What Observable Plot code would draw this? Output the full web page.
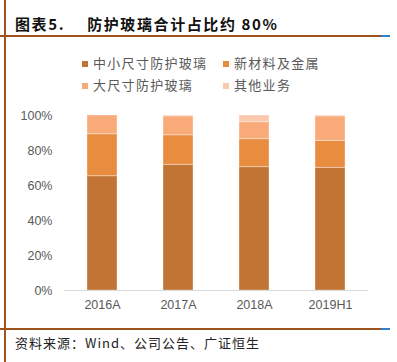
<!DOCTYPE html>
<html>
<head>
<meta charset="utf-8">
<script src="https://cdn.jsdelivr.net/npm/d3@7"></script>
<script src="https://cdn.jsdelivr.net/npm/@observablehq/plot@0.6"></script>
<style>
  html, body { margin: 0; padding: 0; background: #fff; }
  #page { position: relative; width: 397px; height: 362px; overflow: hidden; font-family: "Noto Sans CJK SC", sans-serif; }
  .abs { position: absolute; }
  #title { left: 15px; top: 13px; font-size: 15px; font-weight: bold; color: #111; white-space: pre; letter-spacing: 1.6px; }
  #source { left: 15px; top: 333px; font-size: 13px; color: #222; letter-spacing: 1px; white-space: pre; }
  .leg { font-size: 13px; color: #595959; letter-spacing: 1.3px; white-space: pre; line-height: 16px; }
  .sw { width: 6px; height: 6px; }
  #chart { left: 0; top: 100px; }
</style>
</head>
<body>
<div id="page">
  <div class="abs" style="left:4px;top:0;width:2px;height:362px;background:#A0521E"></div>
  <div class="abs" style="left:0;top:35px;width:381px;height:2px;background:#A0521E"></div>
  <div class="abs" style="left:381px;top:35px;width:9px;height:2px;background:#2F7FD0"></div>
  <div class="abs" style="left:0;top:328px;width:381px;height:2px;background:#A0521E"></div>
  <div class="abs" style="left:381px;top:328px;width:9px;height:2px;background:#2F7FD0"></div>
  <div class="abs" id="title">图表5.<span style="display:inline-block;width:22px"></span>防护玻璃合计占比约 80%</div>
  <div id="legend"></div>
  <div class="abs" id="chart"></div>
  <div class="abs" id="source">资料来源：Wind、公司公告、广证恒生</div>
</div>
<script>
const years = ["2016A", "2017A", "2018A", "2019H1"];
const seriesNames = ["中小尺寸防护玻璃", "新材料及金属", "大尺寸防护玻璃", "其他业务"];
const seriesColors = ["#C27434", "#E88C40", "#F8AA78", "#FBC9AE"];
const smallGlass = [65.3, 71.8, 70.5, 70.1];
const newMaterial = [24.0, 16.9, 16.0, 15.4];
const largeGlass = [10.7, 10.8, 9.7, 14.0];
const others = [0.0, 0.5, 3.8, 0.5];
const yTicks = [0, 20, 40, 60, 80, 100];

const seriesValues = [smallGlass, newMaterial, largeGlass, others];
const rows = [];
seriesNames.forEach((s, i) => {
  years.forEach((y, j) => rows.push({year: y, series: s, value: seriesValues[i][j]}));
});

// legend
const legend = document.getElementById("legend");
const legPos = [[82, 56], [223, 56], [82, 78], [223, 78]];
seriesNames.forEach((s, i) => {
  const sw = document.createElement("div");
  sw.className = "abs sw";
  sw.style.left = legPos[i][0] + "px";
  sw.style.top = (legPos[i][1] + 5) + "px";
  sw.style.background = seriesColors[i];
  legend.appendChild(sw);
  const t = document.createElement("div");
  t.className = "abs leg";
  t.style.left = (legPos[i][0] + 11) + "px";
  t.style.top = (legPos[i][1] - 1) + "px";
  t.textContent = s;
  legend.appendChild(t);
});

const chart = Plot.plot({
  width: 397,
  height: 215,
  marginTop: 15,
  marginBottom: 25,
  marginLeft: 64,
  marginRight: 29,
  style: { fontFamily: "'Liberation Sans', Arial, sans-serif", fontSize: "12.5px", color: "#595959", background: "transparent" },
  x: { domain: years, paddingInner: 0.6, paddingOuter: 0.3, label: null, tickSize: 0, tickPadding: 10 },
  y: { domain: [0, 100], ticks: yTicks, tickFormat: d => d + "%", label: null, tickSize: 0, tickPadding: 12 },
  color: { domain: seriesNames, range: seriesColors },
  marks: [
    Plot.barY(rows, Plot.stackY({ x: "year", y: "value", fill: "series", order: seriesNames, stroke: "white", strokeOpacity: 0.35, strokeWidth: 1 })),
    Plot.ruleY([0], { stroke: "#d9d9d9", strokeWidth: 1 })
  ]
});
document.getElementById("chart").appendChild(chart);
</script>
</body>
</html>
